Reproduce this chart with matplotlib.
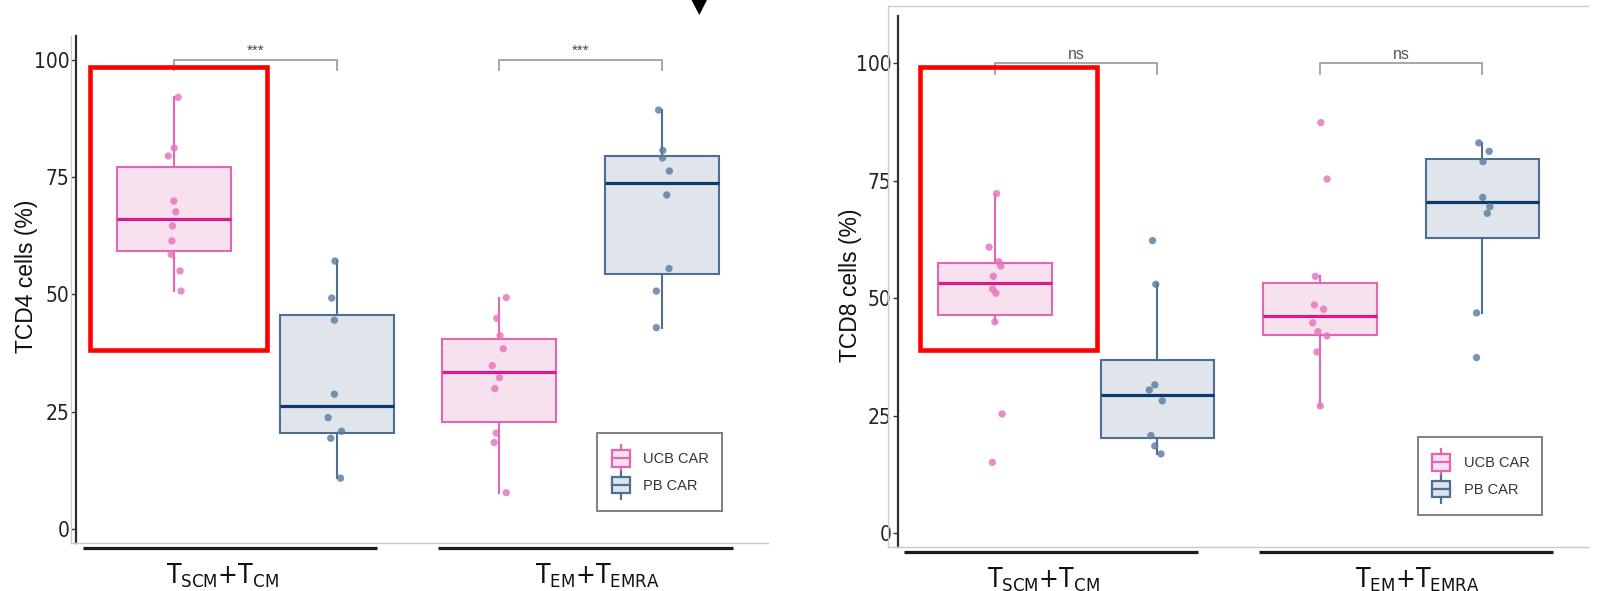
import matplotlib
matplotlib.use("Agg")
import matplotlib.pyplot as plt
from matplotlib import font_manager as fm
from matplotlib.patches import Rectangle, Polygon, Patch
from matplotlib.lines import Line2D
from matplotlib.legend_handler import HandlerBase
from matplotlib.transforms import blended_transform_factory, offset_copy

W, H = 1601, 591

# ---------------- data ----------------
group_labels = [r"$\mathregular{T_{SCM}}$+$\mathregular{T_{CM}}$",
                r"$\mathregular{T_{EM}}$+$\mathregular{T_{EMRA}}$"]
series_names = ["UCB CAR", "PB CAR"]
y_ticks = [0, 25, 50, 75, 100]

cd4_ucb_scm = [92.0, 81.2, 79.5, 69.9, 67.6, 64.6, 61.4, 58.5, 55.0, 50.7]
cd4_pb_scm = [57.1, 49.2, 44.5, 28.7, 23.7, 20.8, 19.3, 10.8]
cd4_ucb_em = [49.3, 44.9, 41.2, 38.4, 34.8, 32.2, 29.9, 20.4, 18.4, 7.7]
cd4_pb_em = [89.3, 80.7, 79.1, 76.3, 71.2, 55.5, 50.7, 42.9]

cd8_ucb_scm = [72.3, 60.9, 57.8, 56.9, 54.7, 52.0, 51.1, 45.0, 25.4, 15.1]
cd8_pb_scm = [62.3, 53.0, 31.6, 30.5, 28.2, 20.8, 18.6, 16.9]
cd8_ucb_em = [87.4, 75.4, 54.7, 48.6, 47.7, 44.8, 42.9, 42.0, 38.6, 27.1]
cd8_pb_em = [83.1, 81.3, 79.1, 71.5, 69.5, 68.1, 46.9, 37.4]

# horizontal jitter of the points (in x units)
cd4_ucb_scm_jit = [0.013, 0.001, -0.017, 0.0, 0.006, -0.004, -0.006, -0.008, 0.019, 0.022]
cd4_pb_scm_jit = [-0.005, -0.015, -0.007, -0.007, -0.026, 0.015, -0.018, 0.012]
cd4_ucb_em_jit = [0.021, -0.008, 0.002, 0.012, -0.022, 0.0, -0.014, -0.010, -0.016, 0.021]
cd4_pb_em_jit = [-0.011, 0.002, 0.001, 0.022, 0.014, 0.021, -0.018, -0.018]

cd8_ucb_scm_jit = [0.005, -0.018, 0.012, 0.018, -0.005, -0.007, 0.003, 0.0, 0.022, -0.008]
cd8_pb_scm_jit = [-0.015, -0.005, -0.008, -0.025, 0.015, -0.020, -0.008, 0.011]
cd8_ucb_em_jit = [0.003, 0.022, -0.014, -0.017, 0.011, -0.022, -0.006, 0.022, -0.009, 0.001]
cd8_pb_em_jit = [-0.011, 0.021, 0.002, 0.001, 0.023, 0.015, -0.018, -0.018]

cd4_signif = ["***", "***"]
cd8_signif = ["ns", "ns"]
y_labels = ["TCD4 cells (%)", "TCD8 cells (%)"]

# ---------------- fonts ----------------
SANS = "Liberation Sans"
narrow_path = None
for f in fm.fontManager.ttflist:
    base = f.fname.split("/")[-1].lower()
    if base in ("liberationsansnarrow-regular.ttf", "dejavusanscondensed.ttf"):
        narrow_path = f.fname
        if "liberation" in base:
            break
if narrow_path:
    NARROW_PROP = dict(fname=narrow_path)
    TICK_SIZE, XLAB_SIZE = 15, 19
else:
    NARROW_PROP = dict(family=SANS)
    TICK_SIZE, XLAB_SIZE = 14, 16.5


def narrow(size):
    return fm.FontProperties(size=size, **NARROW_PROP)


# ---------------- style ----------------
edge_cols = ["#E465B5", "#4E6E94"]
med_cols = ["#D41C8C", "#0C3A6C"]
fill_cols = ["#F7E1EE", "#E0E4EB"]
pt_cols = ["#E673BD", "#5B7BA1"]

fig = plt.figure(figsize=(W / 100, H / 100), dpi=100)
fig.patch.set_facecolor("white")


def fx(x):
    return x / W


def fy(y):
    return 1 - y / H


class BoxHandler(HandlerBase):
    def create_artists(self, legend, orig_handle, xdescent, ydescent, width, height, fontsize, trans):
        fc = orig_handle.get_facecolor()
        ec = orig_handle.get_edgecolor()
        x0, y0 = -xdescent, -ydescent
        rect = Rectangle((x0 + 0.1 * width, y0 + 0.2 * height), 0.8 * width, 0.6 * height,
                         facecolor=fc, edgecolor=ec, lw=1.6, transform=trans)
        med = Line2D([x0 + 0.1 * width, x0 + 0.9 * width], [y0 + 0.5 * height] * 2,
                     color=ec, lw=1.6, transform=trans)
        wt = Line2D([x0 + 0.5 * width] * 2, [y0 + 0.8 * height, y0 + 1.0 * height],
                    color=ec, lw=1.6, transform=trans)
        wb = Line2D([x0 + 0.5 * width] * 2, [y0, y0 + 0.2 * height],
                    color=ec, lw=1.6, transform=trans)
        return [rect, med, wt, wb]


def draw_panel(ax, data, jit, signif, ylabel, xlim, ylim, label_x, label_y, legend_box):
    dodge = [-0.25, 0.25]
    for g in range(2):
        for s in range(2):
            pos = g + 1 + dodge[s]
            vals = data[g][s]
            ax.boxplot([vals], positions=[pos], widths=0.35, patch_artist=True,
                       showfliers=False, showcaps=False, whis=1.5, manage_ticks=False,
                       boxprops=dict(facecolor=fill_cols[s], edgecolor=edge_cols[s], lw=1.5),
                       medianprops=dict(color=med_cols[s], lw=2.3),
                       whiskerprops=dict(color=edge_cols[s], lw=1.5))
            xs = [pos + j for j in jit[g][s]]
            ax.scatter(xs, vals, s=28, color=pt_cols[s], alpha=0.82, edgecolors="none", zorder=3)
        # significance bracket
        p1, p2 = g + 1 + dodge[0], g + 1 + dodge[1]
        ax.plot([p1, p1, p2, p2], [97.8, 100, 100, 97.8], color="#a0a0a0", lw=1.3,
                clip_on=False, solid_joinstyle="miter")
        if signif[g] == "***":
            ax.text((p1 + p2) / 2, 101.1, signif[g], ha="center", va="baseline",
                    fontsize=11, color="#444444", family=SANS)
        else:
            ax.text((p1 + p2) / 2, 100.9, signif[g], ha="center", va="baseline",
                    fontsize=11.5, color="#555555", family=SANS)

    ax.set_xlim(*xlim)
    ax.set_ylim(*ylim)
    for sp in ["top", "right"]:
        ax.spines[sp].set_visible(False)
    ax.spines["left"].set_color("#2e2e2e")
    ax.spines["left"].set_linewidth(1.6)
    ax.spines["bottom"].set_color("#c8c8c8")
    ax.spines["bottom"].set_linewidth(1.0)

    ax.set_yticks(y_ticks)
    ax.set_yticklabels([str(t) for t in y_ticks], fontproperties=narrow(TICK_SIZE), color="#222222")
    ax.tick_params(axis="y", length=3.5, width=1, color="#333333", pad=1.2)
    ax.set_xticks([0.9, 2.05])
    ax.set_xticklabels(group_labels, fontproperties=narrow(XLAB_SIZE), color="#111111")
    ax.tick_params(axis="x", length=0, pad=13)

    ax.set_ylabel(ylabel, family=SANS, fontsize=16.5, color="#111111")
    ax.yaxis.set_label_coords(label_x, label_y)

    # thick black bars under the groups
    tr = offset_copy(blended_transform_factory(ax.transData, ax.transAxes), fig=fig, y=-3.3, units="points")
    for a, b in [(0.47, 1.374), (1.562, 2.468)]:
        ax.plot([a, b], [0, 0], color="#1c1c1c", lw=2.3, transform=tr, clip_on=False,
                solid_capstyle="butt")

    handles = [Patch(facecolor=fill_cols[s], edgecolor=edge_cols[s], label=series_names[s]) for s in range(2)]
    leg = ax.legend(handles=handles, loc="upper left",
                    bbox_to_anchor=(fx(legend_box[0]), fy(legend_box[1])),
                    bbox_transform=fig.transFigure, borderaxespad=0,
                    handler_map={Patch: BoxHandler()}, frameon=True, fancybox=False,
                    edgecolor="#555555", borderpad=0.85, handlelength=1.55, handleheight=2.45,
                    handletextpad=0.75, labelspacing=0.0,
                    prop=dict(family=SANS, size=10.5))
    leg.get_frame().set_linewidth(1.3)
    for t in leg.get_texts():
        t.set_color("#333333")


# left panel
axL = fig.add_axes([fx(76), fy(543.3), (768 - 76) / W, (543.3 - 36) / H])
draw_panel(axL,
           [[cd4_ucb_scm, cd4_pb_scm], [cd4_ucb_em, cd4_pb_em]],
           [[cd4_ucb_scm_jit, cd4_pb_scm_jit], [cd4_ucb_em_jit, cd4_pb_em_jit]],
           cd4_signif, y_labels[0], (0.4495, 2.575), (-3.1, 105.1), -0.055, 0.526,
           (597.3, 432.7))

# right panel
axR = fig.add_axes([fx(897.7), fy(547.3), (1588 - 897.7) / W, (547.3 - 16) / H])
draw_panel(axR,
           [[cd8_ucb_scm, cd8_pb_scm], [cd8_ucb_em, cd8_pb_em]],
           [[cd8_ucb_scm_jit, cd8_pb_scm_jit], [cd8_ucb_em_jit, cd8_pb_em_jit]],
           cd8_signif, y_labels[1], (0.4508, 2.575), (-2.98, 110.1), -0.052, 0.494,
           (1417.7, 436.7))

# light grey screenshot frame pieces
grey = "#cccccc"
for xs, ys in [((70.7, 70.7), (36, 543.3)), ((70.7, 76), (543.3, 543.3)),
               ((888, 888), (6, 547.3)), ((888, 1588), (6, 6)), ((888, 897.7), (547.3, 547.3))]:
    fig.add_artist(Line2D([fx(v) for v in xs], [fy(v) for v in ys], color=grey, lw=1.0,
                          transform=fig.transFigure))

# red highlight rectangles
for (x0, y0, x1, y1) in [(89.5, 67.5, 266.5, 350), (920, 67.3, 1096.7, 349.5)]:
    fig.add_artist(Rectangle((fx(x0), fy(y1)), fx(x1) - fx(x0), fy(y0) - fy(y1),
                             fill=False, edgecolor="#ff0000", lw=3.3, transform=fig.transFigure,
                             zorder=10))

# black arrowhead at top
fig.add_artist(Polygon([(fx(691.5), fy(0)), (fx(707), fy(0)), (fx(699.3), fy(15))],
                       closed=True, facecolor="black", edgecolor="none", transform=fig.transFigure))

fig.savefig("out.png", dpi=100)
